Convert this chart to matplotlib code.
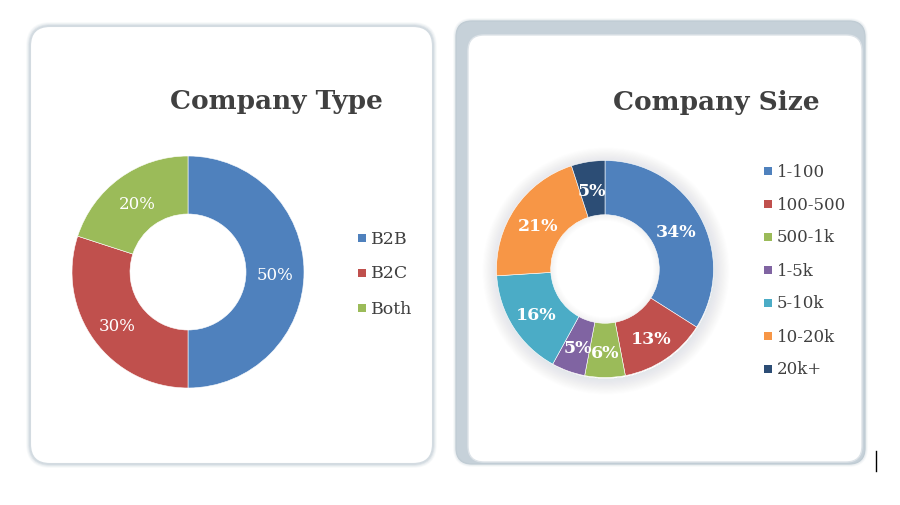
import matplotlib
matplotlib.use("Agg")
import numpy as np
import matplotlib.pyplot as plt
from matplotlib.patches import FancyBboxPatch, Wedge

# ---------------- data ----------------
type_labels = ["B2B", "B2C", "Both"]
type_values = [50, 30, 20]
type_colors = ["#4F81BD", "#C0504D", "#9BBB59"]

size_labels = ["1-100", "100-500", "500-1k", "1-5k", "5-10k", "10-20k", "20k+"]
size_values = [34, 13, 6, 5, 16, 21, 5]
size_colors = ["#4F81BD", "#C0504D", "#9BBB59", "#8064A2", "#4BACC6", "#F79646", "#2C4D75"]

title_left = "Company Type"
title_right = "Company Size"

FONT = "DejaVu Serif"
W, H = 900, 506
fig = plt.figure(figsize=(W / 100, H / 100), dpi=100)
fig.patch.set_facecolor("white")

bg = fig.add_axes([0, 0, 1, 1])
bg.set_xlim(0, W)
bg.set_ylim(H, 0)
bg.axis("off")

# ---- left panel (soft border) ----
for i, a in enumerate([0.10, 0.18, 0.35]):
    g = 3 - i
    bg.add_patch(FancyBboxPatch((30 - g, 27 - g), 403 + 2 * g, 438 + 2 * g,
                                boxstyle="round,pad=0,rounding_size=%d" % (20 + g),
                                fc="none", ec="#b9c6d0", lw=1.2, alpha=a, zorder=1))
bg.add_patch(FancyBboxPatch((30, 27), 403, 438, boxstyle="round,pad=0,rounding_size=20",
                            fc="white", ec="#d3dbe1", lw=1.5, zorder=2))

# ---- right panel (gray frame on top/left) ----
for i, a in enumerate([0.10, 0.2]):
    g = 2 - i
    bg.add_patch(FancyBboxPatch((456 - g, 22 - g), 409 + 2 * g, 443 + 2 * g,
                                boxstyle="round,pad=0,rounding_size=%d" % (16 + g),
                                fc="none", ec="#b9c6d0", lw=1.2, alpha=a, zorder=1))
bg.add_patch(FancyBboxPatch((456, 22), 409, 443, boxstyle="round,pad=0,rounding_size=16",
                            fc="#c6d1d9", ec="#c0ccd4", lw=1.0, zorder=2))
bg.add_patch(FancyBboxPatch((468, 36), 394, 427, boxstyle="round,pad=0,rounding_size=16",
                            fc="white", ec="#dde3e8", lw=1.0, zorder=3))

# donut shadow (right) - soft ring outside the donut and faint inside the hole
cx, cy, R = 605, 270, 108.5
for k in range(14):
    rr = R + 15 - k * 1.1
    bg.add_patch(Wedge((cx + 1, cy + 2), rr, 0, 360, width=rr - R + 1, fc="#8c979f",
                       ec="none", alpha=0.011, zorder=4))
for k in range(6):
    bg.add_patch(Wedge((cx, cy), R * 0.5, 0, 360, width=6 - k, fc="#8c979f",
                       ec="none", alpha=0.015, zorder=4))

# text cursor
bg.plot([876, 876], [452, 472], color="black", lw=1.0, zorder=5)

# titles
bg.text(276, 101, title_left, ha="center", va="center", fontsize=19, fontweight="bold",
        color="#404040", family=FONT, zorder=6)
bg.text(716, 102, title_right, ha="center", va="center", fontsize=19, fontweight="bold",
        color="#404040", family=FONT, zorder=6)


def donut_axes(cx, cy, r):
    ax = fig.add_axes([(cx - r) / W, (H - cy - r) / H, 2 * r / W, 2 * r / H])
    ax.set_zorder(10)
    ax.patch.set_alpha(0)
    return ax


# left donut
axL = donut_axes(188, 273, 116)
wL, _ = axL.pie(type_values, colors=type_colors, startangle=90, counterclock=False,
                radius=1.0, wedgeprops=dict(width=0.5, edgecolor="white", linewidth=0.4))
for w, v in zip(wL, type_values):
    ang = np.deg2rad((w.theta1 + w.theta2) / 2)
    axL.text(0.75 * np.cos(ang), 0.75 * np.sin(ang), f"{v}%", ha="center",
             va="center_baseline", color="white", fontsize=12, family=FONT)
axL.set_xlim(-1, 1)
axL.set_ylim(-1, 1)

# right donut
axR = donut_axes(cx, cy, R)
wR, _ = axR.pie(size_values, colors=size_colors, startangle=90, counterclock=False,
                radius=1.0, wedgeprops=dict(width=0.5, edgecolor="white", linewidth=0.4))
for w, v in zip(wR, size_values):
    ang = np.deg2rad((w.theta1 + w.theta2) / 2)
    axR.text(0.75 * np.cos(ang), 0.75 * np.sin(ang), f"{v}%", ha="center",
             va="center_baseline", color="white", fontsize=12.5, fontweight="bold",
             family=FONT)
axR.set_xlim(-1, 1)
axR.set_ylim(-1, 1)


# legends
def legend(labels, colors, x_sq, y0, dy, fs):
    for i, (lab, col) in enumerate(zip(labels, colors)):
        y = y0 + i * dy
        bg.add_patch(plt.Rectangle((x_sq - 4, y - 4), 8, 8, fc=col, ec="none", zorder=6))
        bg.text(x_sq + 9, y, lab, ha="left", va="center", fontsize=fs, color="#404040",
                family=FONT, zorder=6)


legend(type_labels, type_colors, 362, 239, 35, 12.5)
legend(size_labels, size_colors, 768, 172, 33, 12)

fig.savefig("out.png", dpi=100, facecolor="white")
